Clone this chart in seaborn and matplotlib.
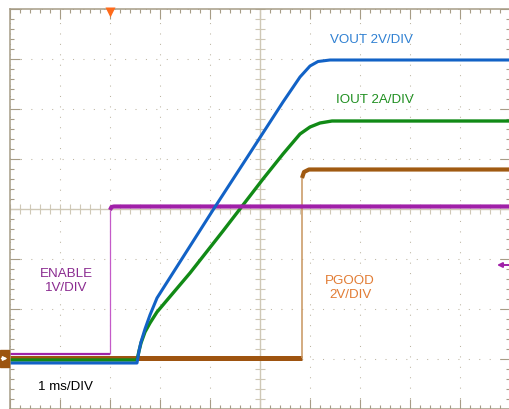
import numpy as np
import pandas as pd
import matplotlib
matplotlib.use("Agg")
import matplotlib.pyplot as plt
import seaborn as sns
from matplotlib.patches import Rectangle

# time axis in ms (1 ms/DIV), levels in screen divisions from the bottom edge
enable_t = [0.0, 2.0, 2.0, 2.03, 2.08, 10.0]
enable_v = [1.10, 1.10, 3.98, 4.04, 4.05, 4.05]

vout_t = [0.0, 2.54, 2.58, 2.62, 2.70, 2.80, 2.94, 3.50, 4.06, 4.80, 5.46, 5.80,
          6.00, 6.16, 6.40, 10.0]
vout_v = [0.92, 0.92, 1.16, 1.34, 1.60, 1.88, 2.22, 3.10, 3.98, 5.12, 6.14, 6.64,
          6.86, 6.95, 6.98, 6.98]

iout_t = [0.0, 2.54, 2.58, 2.62, 2.70, 2.80, 2.94, 3.60, 4.26, 4.66, 5.06, 5.46,
          5.80, 6.00, 6.20, 6.44, 10.0]
iout_v = [0.98, 0.98, 1.16, 1.32, 1.54, 1.72, 1.94, 2.72, 3.56, 4.08, 4.60, 5.10,
          5.50, 5.64, 5.72, 5.76, 5.76]

pgood_t = [0.0, 5.84, 5.84, 5.88, 5.98, 10.0]
pgood_v = [1.02, 1.02, 4.62, 4.74, 4.79, 4.79]

frame_col = "#a69c86"
grid_col = "#bdb5a2"
center_col = "#cfc8b6"


def trace(ax, t, v, color, lw):
    sns.lineplot(x=t, y=v, ax=ax, color=color, lw=lw, estimator=None, sort=False,
                 solid_capstyle="butt", solid_joinstyle="round", clip_on=False)


sns.set_theme(style="white")
plt.rcParams["font.family"] = ["Liberation Sans", "DejaVu Sans"]

fig = plt.figure(figsize=(5.1, 4.1), dpi=100)
ax = fig.add_axes([10 / 510, 0, 500 / 510, 400 / 410])
ax.set_xlim(0, 10)
ax.set_ylim(0, 8)

# graticule
ax.set_xticks(np.arange(0, 11, 1))
ax.set_yticks(np.arange(0, 9, 1))
ax.set_xticks(np.arange(0, 10.01, 0.2), minor=True)
ax.set_yticks(np.arange(0, 8.01, 0.2), minor=True)
ax.tick_params(which="both", direction="in", top=True, right=True, bottom=True, left=True,
               labelbottom=False, labelleft=False, color=frame_col, width=0.8)
ax.tick_params(which="major", length=7.2)
ax.tick_params(which="minor", length=3.2)
for sp in ax.spines.values():
    sp.set_color(frame_col)
    sp.set_linewidth(1.1)
ax.grid(True, which="major", color=grid_col, linestyle=(0, (1, 9)), linewidth=0.75)
ax.grid(False, which="minor")
ax.axvline(5, color=center_col, lw=1.0)
ax.axhline(4, color=center_col, lw=1.0)
ax.plot(np.full(41, 5.0), np.arange(0, 8.01, 0.2), ls="none", marker="_", ms=7,
        mew=0.8, color=center_col)
ax.plot(np.arange(0, 10.01, 0.2), np.full(51, 4.0), ls="none", marker="|", ms=7,
        mew=0.8, color=center_col)

# traces
trace(ax, pgood_t[:2], pgood_v[:2], "#9e5410", 3.6)
trace(ax, pgood_t[1:3], pgood_v[1:3], "#c8955e", 1.1)
trace(ax, pgood_t[2:], pgood_v[2:], "#a05a12", 3.0)
trace(ax, iout_t, iout_v, "#118a16", 2.4)
trace(ax, enable_t[:2], enable_v[:2], "#a024a8", 1.6)
trace(ax, enable_t[1:3], enable_v[1:3], "#c45ac8", 0.9)
trace(ax, enable_t[2:], enable_v[2:], "#a020a8", 3.0)
trace(ax, vout_t, vout_v, "#1262c6", 2.2)

# labels
fs = 9.6
ax.text(7.23, 7.4, "VOUT 2V/DIV", color="#2f80d2", fontsize=fs, ha="center", va="center")
ax.text(7.3, 6.2, "IOUT 2A/DIV", color="#1f8f20", fontsize=fs, ha="center", va="center")
ax.text(6.8, 2.44, "PGOOD\n2V/DIV", color="#e27c34", fontsize=fs, ha="center", va="center",
        linespacing=1.3)
ax.text(1.12, 2.58, "ENABLE\n1V/DIV", color="#8a2a90", fontsize=fs, ha="center", va="center",
        linespacing=1.25)
ax.text(1.11, 0.45, "1 ms/DIV", color="black", fontsize=fs, ha="center", va="center")

# scope markers
ax.add_patch(Rectangle((-0.2, 0.84), 0.18, 0.34, color="#9c5410", clip_on=False, zorder=5))
ax.annotate("", xy=(-0.05, 1.01), xytext=(-0.17, 1.01), annotation_clip=False, zorder=6,
            arrowprops=dict(arrowstyle="-|>", color="white", lw=1.1, mutation_scale=6,
                            shrinkA=0, shrinkB=0))
ax.annotate("", xy=(9.74, 2.88), xytext=(10.05, 2.88), annotation_clip=False,
            arrowprops=dict(arrowstyle="-|>", color="#a020a8", lw=1.4, mutation_scale=7,
                            shrinkA=0, shrinkB=0))
ax.plot([enable_t[1]], [7.94], marker="v", ms=7, color="#ff6a1a", mec="none", clip_on=False,
        zorder=6)

fig.savefig("out.png", dpi=100, facecolor="white")
